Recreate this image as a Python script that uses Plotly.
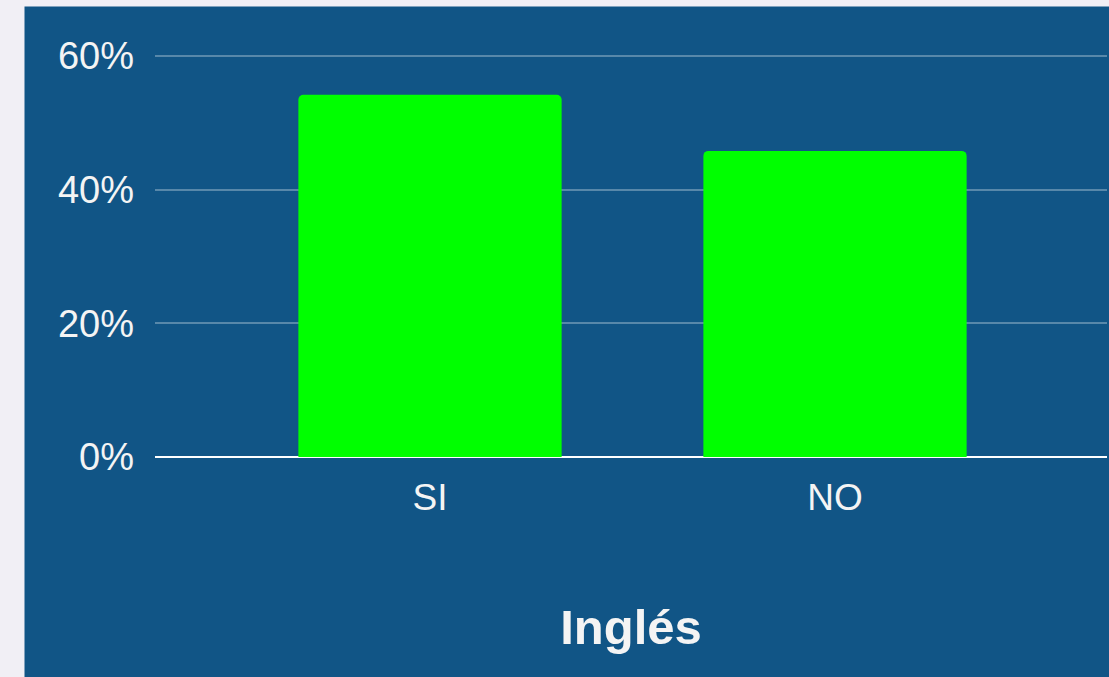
import plotly.graph_objects as go

categories = ["SI", "NO"]
values = [54.2, 45.8]
y_ticks = [0, 20, 40, 60]
y_tick_labels = ["0%", "20%", "40%", "60%"]
x_title = "Inglés"

PANEL = "#115586"
OUTER = "#f1eff5"
TEXT = "#f4f4f4"

fig = go.Figure()
fig.add_trace(go.Bar(
    x=[0, 1], y=values,
    marker=dict(color="#00ff00", line=dict(width=0)),
    width=0.65,
    hoverinfo="skip",
))

PLOT_TOP = 53.5
PLOT_BOTTOM = 457
PLOT_H = PLOT_BOTTOM - PLOT_TOP
PLOT_L = 155
PLOT_R = 1107
PLOT_W = PLOT_R - PLOT_L

fig.update_layout(
    width=1109, height=677, autosize=False,
    paper_bgcolor=OUTER, plot_bgcolor=PANEL,
    margin=dict(l=PLOT_L, r=1109 - PLOT_R, t=PLOT_TOP, b=677 - PLOT_BOTTOM, pad=0),
    barcornerradius=5,
    showlegend=False,
    font=dict(family="Liberation Sans, Arial, sans-serif", color=TEXT, size=38),
    shapes=[dict(type="rect", xref="paper", yref="paper",
                 x0=(24.5 - PLOT_L) / PLOT_W, x1=1.01,
                 y0=-0.6, y1=(PLOT_BOTTOM - 6) / PLOT_H,
                 fillcolor=PANEL, line=dict(width=0), layer="below")],
)
fig.update_xaxes(
    range=[-(430 - PLOT_L) / 405, (PLOT_R - 430) / 405],
    tickvals=[0, 1], ticktext=categories,
    showgrid=False, zeroline=False, showline=False, ticks="",
    tickfont=dict(size=37, color=TEXT),
    ticklabelstandoff=15,
    title=dict(text="<b>" + x_title + "</b>", font=dict(size=49, color=TEXT), standoff=92),
)
fig.update_yaxes(
    range=[0, 60.3],
    tickvals=y_ticks, ticktext=y_tick_labels,
    showgrid=True, gridcolor="rgba(255,255,255,0.3)", gridwidth=2,
    zeroline=True, zerolinecolor="#ffffff", zerolinewidth=2.5,
    showline=False, ticks="",
    tickfont=dict(size=38, color=TEXT),
    ticklabelstandoff=20,
)
fig.write_html(
    "out.html",
    config={"displayModeBar": False, "staticPlot": True},
    post_script="document.body.style.margin='0';document.body.style.background='" + OUTER + "';",
)
